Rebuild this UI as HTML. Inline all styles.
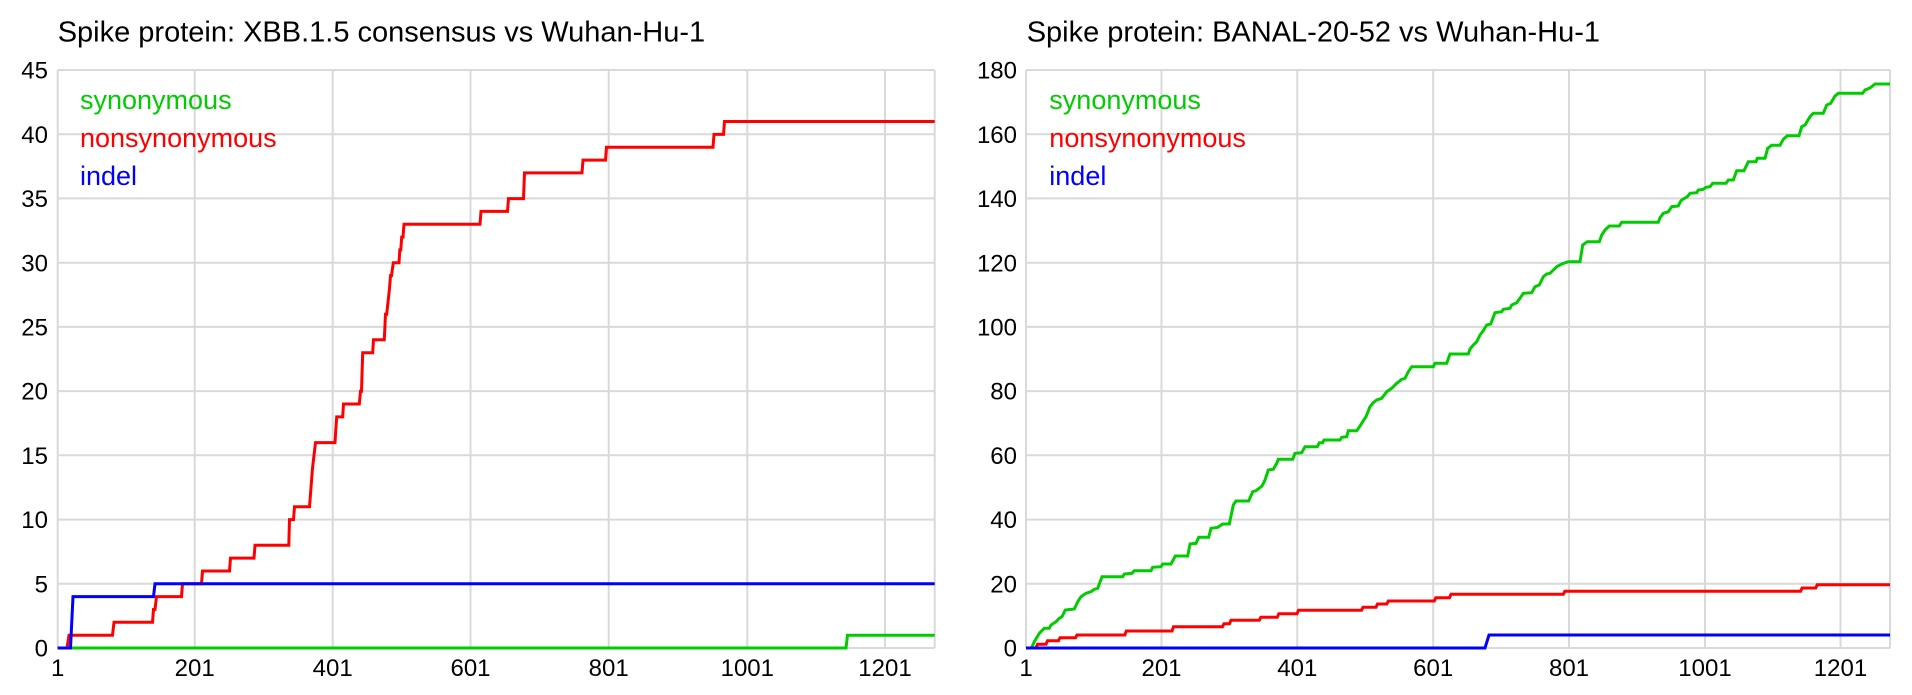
<!DOCTYPE html>
<html>
<head>
<meta charset="utf-8">
<style>
html,body{margin:0;padding:0;background:#fff;}
svg{display:block;}
text{font-family:"Liberation Sans",Arial,sans-serif;}
</style>
</head>
<body>
<svg width="1912" height="695" viewBox="0 0 1912 695" xmlns="http://www.w3.org/2000/svg">
<rect x="0" y="0" width="1912" height="695" fill="#fff"/>

<!-- ============ LEFT CHART ============ -->
<text x="57.7" y="41.7" font-size="29" fill="#000">Spike protein: XBB.1.5 consensus vs Wuhan-Hu-1</text>
<g stroke="#d9d9d9" stroke-width="2" fill="none">
  <line x1="57.7" y1="70" x2="934.7" y2="70"/>
  <line x1="57.7" y1="134.2" x2="934.7" y2="134.2"/>
  <line x1="57.7" y1="198.4" x2="934.7" y2="198.4"/>
  <line x1="57.7" y1="262.7" x2="934.7" y2="262.7"/>
  <line x1="57.7" y1="326.9" x2="934.7" y2="326.9"/>
  <line x1="57.7" y1="391.1" x2="934.7" y2="391.1"/>
  <line x1="57.7" y1="455.3" x2="934.7" y2="455.3"/>
  <line x1="57.7" y1="519.6" x2="934.7" y2="519.6"/>
  <line x1="57.7" y1="583.8" x2="934.7" y2="583.8"/>
  <line x1="57.7" y1="648" x2="934.7" y2="648"/>
  <line x1="57.7" y1="70" x2="57.7" y2="648"/>
  <line x1="194.7" y1="70" x2="194.7" y2="648"/>
  <line x1="332.7" y1="70" x2="332.7" y2="648"/>
  <line x1="470.5" y1="70" x2="470.5" y2="648"/>
  <line x1="608.7" y1="70" x2="608.7" y2="648"/>
  <line x1="747.3" y1="70" x2="747.3" y2="648"/>
  <line x1="885" y1="70" x2="885" y2="648"/>
  <line x1="934.7" y1="70" x2="934.7" y2="648"/>
</g>
<g font-size="24" fill="#000" text-anchor="end">
  <text x="48" y="78.6">45</text>
  <text x="48" y="142.8">40</text>
  <text x="48" y="207">35</text>
  <text x="48" y="271.3">30</text>
  <text x="48" y="335.5">25</text>
  <text x="48" y="399.7">20</text>
  <text x="48" y="463.9">15</text>
  <text x="48" y="528.2">10</text>
  <text x="48" y="592.4">5</text>
  <text x="48" y="656.6">0</text>
</g>
<g font-size="24" fill="#000" text-anchor="middle">
  <text x="57.7" y="676">1</text>
  <text x="194.7" y="676">201</text>
  <text x="332.7" y="676">401</text>
  <text x="470.5" y="676">601</text>
  <text x="608.7" y="676">801</text>
  <text x="747.3" y="676">1001</text>
  <text x="885" y="676">1201</text>
</g>
<g fill="none" stroke-width="3" stroke-linejoin="miter">
  <polyline stroke="#00cc00" points="57.7,648 846,648 847.5,635.2 934.7,635.2"/>
  <polyline stroke="#ff0000" points="57.7,648 67,648 69,635.2 112.5,635.2 114,622.3 152.5,622.3 153.5,609.5 155,609.5 156.5,596.6 181.5,596.6 182.5,583.8 201.5,583.8 202.5,571 229.5,571 230.5,558.1 254,558.1 255,545.3 288.8,545.3 289.5,519.6 293.5,519.6 294.5,506.8 309.5,506.8 310.5,494 311.5,481.1 312.5,468.3 314,455.4 315.5,442.6 335,442.6 335.8,429.7 336.7,416.9 342.7,416.9 343.5,404 359.3,404 360.5,391.2 361.5,391.2 362.7,352.7 372.7,352.7 373.5,339.8 384.3,339.8 385.5,314.2 386.7,314.2 389.5,288.5 390.5,275.6 391.5,275.6 393.3,262.8 399,262.8 399.8,249.9 400.8,249.9 401.7,237.1 403,237.1 404,224.3 480,224.3 481,211.4 507.5,211.4 508.5,198.6 523.5,198.6 524.5,172.9 582,172.9 583,160.1 605.5,160.1 606.5,147.2 713,147.2 714,134.4 723.5,134.4 724.5,121.5 934.7,121.5"/>
  <polyline stroke="#0000ff" points="57.7,648 70.5,648 73,596.6 153.5,596.6 155,583.8 934.7,583.8"/>
</g>
<g font-size="27">
  <text x="80" y="109" fill="#00cc00">synonymous</text>
  <text x="80" y="147" fill="#ff0000">nonsynonymous</text>
  <text x="80" y="185" fill="#0000ff">indel</text>
</g>

<!-- ============ RIGHT CHART ============ -->
<text x="1026.7" y="41.7" font-size="29" fill="#000">Spike protein: BANAL-20-52 vs Wuhan-Hu-1</text>
<g stroke="#d9d9d9" stroke-width="2" fill="none">
  <line x1="1026" y1="70" x2="1890" y2="70"/>
  <line x1="1026" y1="134.2" x2="1890" y2="134.2"/>
  <line x1="1026" y1="198.4" x2="1890" y2="198.4"/>
  <line x1="1026" y1="262.7" x2="1890" y2="262.7"/>
  <line x1="1026" y1="326.9" x2="1890" y2="326.9"/>
  <line x1="1026" y1="391.1" x2="1890" y2="391.1"/>
  <line x1="1026" y1="455.3" x2="1890" y2="455.3"/>
  <line x1="1026" y1="519.6" x2="1890" y2="519.6"/>
  <line x1="1026" y1="583.8" x2="1890" y2="583.8"/>
  <line x1="1026" y1="648" x2="1890" y2="648"/>
  <line x1="1026" y1="70" x2="1026" y2="648"/>
  <line x1="1161.5" y1="70" x2="1161.5" y2="648"/>
  <line x1="1297.3" y1="70" x2="1297.3" y2="648"/>
  <line x1="1433.2" y1="70" x2="1433.2" y2="648"/>
  <line x1="1569" y1="70" x2="1569" y2="648"/>
  <line x1="1705" y1="70" x2="1705" y2="648"/>
  <line x1="1840.5" y1="70" x2="1840.5" y2="648"/>
  <line x1="1890" y1="70" x2="1890" y2="648"/>
</g>
<g font-size="24" fill="#000" text-anchor="end">
  <text x="1017" y="78.6">180</text>
  <text x="1017" y="142.8">160</text>
  <text x="1017" y="207">140</text>
  <text x="1017" y="271.3">120</text>
  <text x="1017" y="335.5">100</text>
  <text x="1017" y="399.7">80</text>
  <text x="1017" y="463.9">60</text>
  <text x="1017" y="528.2">40</text>
  <text x="1017" y="592.4">20</text>
  <text x="1017" y="656.6">0</text>
</g>
<g font-size="24" fill="#000" text-anchor="middle">
  <text x="1026" y="676">1</text>
  <text x="1161.5" y="676">201</text>
  <text x="1297.3" y="676">401</text>
  <text x="1433.2" y="676">601</text>
  <text x="1569" y="676">801</text>
  <text x="1705" y="676">1001</text>
  <text x="1840.5" y="676">1201</text>
</g>
<g fill="none" stroke-width="3" stroke-linejoin="miter">
  <polyline stroke="#00cc00" points="1026,648 1031,648 1032,646.7 1034.3,641.7 1039.3,633.3 1044.3,628.3 1049.3,628.3 1051,625 1056,621.7 1059.3,618.3 1062,616.7 1065.3,610 1074.3,609 1077.7,601.7 1081,596.7 1086,593.3 1091,591.7 1094.3,589.3 1097.7,588.3 1102,576.7 1122.7,576.7 1124.3,574 1132,573.3 1134.3,570.7 1151,570.7 1152.7,567.3 1161,566.7 1162.7,564 1171,564 1175.3,556 1187.7,556 1190,544 1196,543.3 1198.7,537.3 1208.7,537.3 1211,528.3 1217.7,527.3 1222.7,524 1229.3,524 1233.3,505 1236,501 1248.7,501 1252.7,491.7 1256,490.7 1262,486 1265,480 1268.3,470 1273.3,469.3 1276.7,463.3 1278.3,459.3 1292.7,459.3 1295,453.3 1301.7,452.7 1305,446.7 1317.3,446.7 1319.3,442.7 1322.7,442.7 1324,440 1340,440 1341.7,437.3 1346.7,436.7 1348.3,430.7 1356.7,430.7 1360,426 1363.3,420.7 1366,416.7 1370,406.7 1373.3,402.7 1376.7,400 1381.7,398.3 1386.7,391.7 1391.7,388.3 1396.7,383.3 1401.7,379.3 1405,378.3 1408.3,371.7 1411.7,366.7 1433.3,366.7 1435,363.3 1446.7,363.3 1450,354 1468.3,354 1470,349 1473.3,345 1476.7,341.7 1480,335 1483.3,330.7 1486.7,325 1490.7,324 1495,312.7 1501.7,311.7 1503.3,309.3 1510,308.3 1511.7,305 1516.7,302.7 1520,298.3 1523.3,293.3 1531.7,292.7 1535,286.7 1539.3,285 1543.3,276.7 1546.7,274 1550,273.3 1553.3,270 1556.7,266.7 1561.7,264 1568.3,261.7 1580,261.7 1582.7,245 1587.3,241.7 1599.3,241.7 1601.7,235 1605,230 1609.3,226 1619.3,226 1621.7,222.3 1658.3,222.3 1660,217.7 1663.3,213.3 1668.3,211.7 1671.7,206.7 1678.3,206 1680,202.3 1681.7,200 1687.3,196.7 1690,193.3 1696.7,192.7 1698.3,190 1703.3,189.3 1706,187.3 1710,186.7 1712.7,183.3 1726,183.3 1728.3,180 1733.3,180 1736.7,170.7 1744,170.7 1748.3,161.7 1756,161.7 1757.3,158.3 1765,158.3 1767.7,148.3 1771.7,145.3 1780,145.3 1783.3,139.3 1787.3,135.7 1799,135.7 1801.7,126.7 1805,125 1810,116.7 1813.3,113.3 1823.3,113.3 1826.7,105 1830.7,103.3 1835,96 1838.3,93.3 1862.7,93.3 1865,90 1869.3,88.3 1871.7,86.7 1875,84 1890,84"/>
  <polyline stroke="#ff0000" points="1026,648 1036,648 1037.5,644.3 1046,644.3 1047.5,640.7 1058.5,640.7 1060,637.7 1075.5,637.7 1077,635 1124.8,635 1126.3,631 1172,631 1173.5,626.7 1222.5,626.7 1224,623.7 1229.5,623.7 1231,620.3 1259.3,620.3 1260.8,617.3 1277.3,617.3 1278.8,613.7 1297,613.7 1298.5,610.3 1361.5,610.3 1363,607.3 1376,607.3 1377.5,604 1386.8,604 1388.3,601 1434.3,601 1435.8,597.7 1449.5,597.7 1451,594.3 1563.3,594.3 1564.8,591.3 1800.6,591.3 1802.1,588 1815.7,588 1817.2,584.7 1890,584.7"/>
  <polyline stroke="#0000ff" points="1026,648 1485,648 1489,635 1890,635"/>
</g>
<g font-size="27">
  <text x="1049.3" y="109" fill="#00cc00">synonymous</text>
  <text x="1049.3" y="147" fill="#ff0000">nonsynonymous</text>
  <text x="1049.3" y="185" fill="#0000ff">indel</text>
</g>
</svg>
</body>
</html>
